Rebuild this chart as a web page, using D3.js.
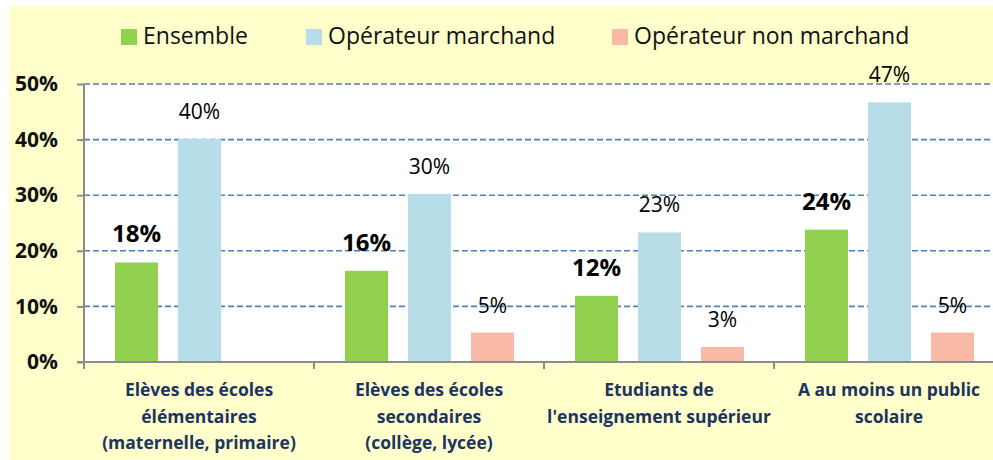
<!DOCTYPE html>
<html>
<head>
<meta charset="utf-8">
<script src="https://cdn.jsdelivr.net/npm/d3@7"></script>
<style>
  body { margin: 0; background: #fff; }
  text { font-family: "Open Sans", Lato, sans-serif; }
</style>
</head>
<body>
<div id="chart"></div>
<script>
var categories = [
  ["Elèves des écoles", "élémentaires", "(maternelle, primaire)"],
  ["Elèves des écoles", "secondaires", "(collège, lycée)"],
  ["Etudiants de", "l'enseignement supérieur"],
  ["A au moins un public", "scolaire"]
];
var series = ["Ensemble", "Opérateur marchand", "Opérateur non marchand"];
var ensemble = [17.9, 16.4, 11.9, 23.8];
var marchand = [40.1, 30.2, 23.3, 46.7];
var nonMarchand = [null, 5.3, 2.7, 5.3];
var yTicks = [0, 10, 20, 30, 40, 50];

var colors = ["#92d050", "#b7dde8", "#f8b9a6"];
var values = [ensemble, marchand, nonMarchand];

var svg = d3.select("#chart")
            .append("svg")
            .attr("width", 993)
            .attr("height", 460);

// yellow background
svg.append("rect")
   .attr("x", 9).attr("y", 6)
   .attr("width", 984).attr("height", 454)
   .attr("fill", "#ffffcc");

var plotLeft = 84, plotTop = 84, plotBottom = 362, groupW = 230;

var x0 = d3.scaleBand()
           .domain(d3.range(categories.length))
           .range([plotLeft, plotLeft + groupW * categories.length]);
var x1 = d3.scaleBand()
           .domain(d3.range(series.length))
           .range([31, 200])
           .paddingInner(20 / 63);
var y = d3.scaleLinear().domain([0, 50]).range([plotBottom, plotTop]);

// plot area
svg.append("rect")
   .attr("x", plotLeft).attr("y", plotTop)
   .attr("width", 993 - plotLeft).attr("height", plotBottom - plotTop)
   .attr("fill", "#fff");

// gridlines
svg.append("g").selectAll("line")
   .data(yTicks.slice(1))
   .enter().append("line")
   .attr("x1", plotLeft).attr("x2", 993)
   .attr("y1", function(d) { return y(d); })
   .attr("y2", function(d) { return y(d); })
   .attr("stroke", "#4f81bd")
   .attr("stroke-width", 1.6)
   .attr("stroke-dasharray", "6,3");

// bars
var groups = svg.append("g").selectAll("g")
   .data(categories)
   .enter().append("g")
   .attr("transform", function(d, i) { return "translate(" + x0(i) + ",0)"; });

groups.each(function(c, i) {
  var g = d3.select(this);
  var rows = series.map(function(s, j) { return {j: j, v: values[j][i]}; })
                   .filter(function(r) { return r.v != null; });
  g.selectAll("rect")
   .data(rows)
   .enter().append("rect")
   .attr("x", function(r) { return x1(r.j); })
   .attr("y", function(r) { return y(r.v); })
   .attr("width", x1.bandwidth())
   .attr("height", function(r) { return plotBottom - y(r.v); })
   .attr("fill", function(r) { return colors[r.j]; });
  g.selectAll("text.val")
   .data(rows)
   .enter().append("text")
   .attr("class", "val")
   .attr("x", function(r) { return x1(r.j) + x1.bandwidth() / 2; })
   .attr("y", function(r) { return y(r.v) - 20; })
   .attr("text-anchor", "middle")
   .attr("font-size", function(r) { return r.j == 0 ? 24 : 21; })
   .attr("font-weight", function(r) { return r.j == 0 ? "bold" : "normal"; })
   .attr("fill", "#000")
   .text(function(r) { return Math.round(r.v) + "%"; });
});

// y axis
var yAxis = svg.append("g")
   .attr("transform", "translate(" + plotLeft + ",0)")
   .call(d3.axisLeft(y).tickValues(yTicks).tickSize(7).tickPadding(19)
           .tickFormat(function(d) { return d + "%"; }));
yAxis.select(".domain").remove();
yAxis.selectAll(".tick line").attr("stroke", "#8c8c8c").attr("stroke-width", 2);
yAxis.selectAll("text")
     .attr("font-family", "'Open Sans', sans-serif")
     .attr("font-size", 21)
     .attr("font-weight", "bold")
     .attr("fill", "#111");
svg.append("line")
   .attr("x1", plotLeft).attr("x2", plotLeft)
   .attr("y1", plotTop).attr("y2", plotBottom + 1)
   .attr("stroke", "#8c8c8c").attr("stroke-width", 2);

// x axis
svg.append("line")
   .attr("x1", plotLeft - 7).attr("x2", 993)
   .attr("y1", plotBottom).attr("y2", plotBottom)
   .attr("stroke", "#8c8c8c").attr("stroke-width", 2);
svg.append("g").selectAll("line")
   .data(d3.range(categories.length))
   .enter().append("line")
   .attr("x1", function(i) { return x0(i); })
   .attr("x2", function(i) { return x0(i); })
   .attr("y1", plotBottom).attr("y2", plotBottom + 7)
   .attr("stroke", "#8c8c8c").attr("stroke-width", 2);

// category labels
groups.append("text")
   .attr("text-anchor", "middle")
   .attr("font-size", 17.5)
   .attr("font-weight", "bold")
   .attr("fill", "#1c3461")
   .selectAll("tspan")
   .data(function(d) { return d; })
   .enter().append("tspan")
   .attr("x", groupW / 2)
   .attr("y", function(d, k) { return 396 + k * 26.5; })
   .text(function(d) { return d; });

// legend
var legendX = [121, 306, 612];
var legend = svg.append("g").selectAll("g")
   .data(series)
   .enter().append("g")
   .attr("transform", function(d, i) { return "translate(" + legendX[i] + ",29)"; });
legend.append("rect")
   .attr("width", 16).attr("height", 16)
   .attr("fill", function(d, i) { return colors[i]; });
legend.append("text")
   .attr("x", 22).attr("y", 15)
   .attr("font-size", 23)
   .attr("fill", "#111")
   .text(function(d) { return d; });
</script>
</body>
</html>
